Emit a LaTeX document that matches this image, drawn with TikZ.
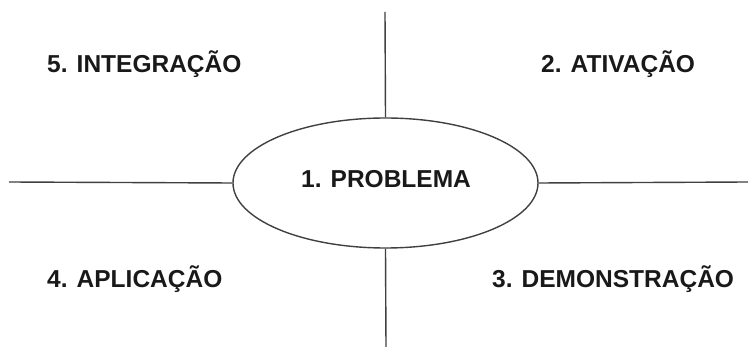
\documentclass[tikz,border=0pt]{standalone}
\usepackage{fontspec}
\setmainfont{Liberation Sans}
\usetikzlibrary{shapes.geometric}
\begin{document}
\begin{tikzpicture}[x=1pt,y=-1pt,
  axis/.style={draw=black!75, line width=1.4pt},
  label/.style={anchor=base west, inner sep=0pt, font=\fontsize{24.5}{28}\selectfont\bfseries, text=black!90}]
  \useasboundingbox (0,0) rectangle (750,347);
  % central problem ellipse
  \node[ellipse, axis, minimum width=305pt, minimum height=130pt, inner sep=0pt] (core) at (385.5,183) {};
  \node[label] (p1) at (301,188) {1. PROBLEMA};
  % axes of the four quadrants
  \coordinate (top) at (385,12);
  \coordinate (bottom) at (386,347);
  \coordinate (left) at (9,182);
  \coordinate (right) at (748,182);
  \draw[axis] (core.north) -- (top);
  \draw[axis] (core.south) -- (bottom);
  \draw[axis] (core.west) -- (left);
  \draw[axis] (core.east) -- (right);
  % quadrant phases
  \node[label] (p5) at (47,73) {5. INTEGRAÇÃO};
  \node[label] (p2) at (541,73) {2. ATIVAÇÃO};
  \node[label] (p4) at (47,288) {4. APLICAÇÃO};
  \node[label] (p3) at (492,288) {3. DEMONSTRAÇÃO};
\end{tikzpicture}
\end{document}
